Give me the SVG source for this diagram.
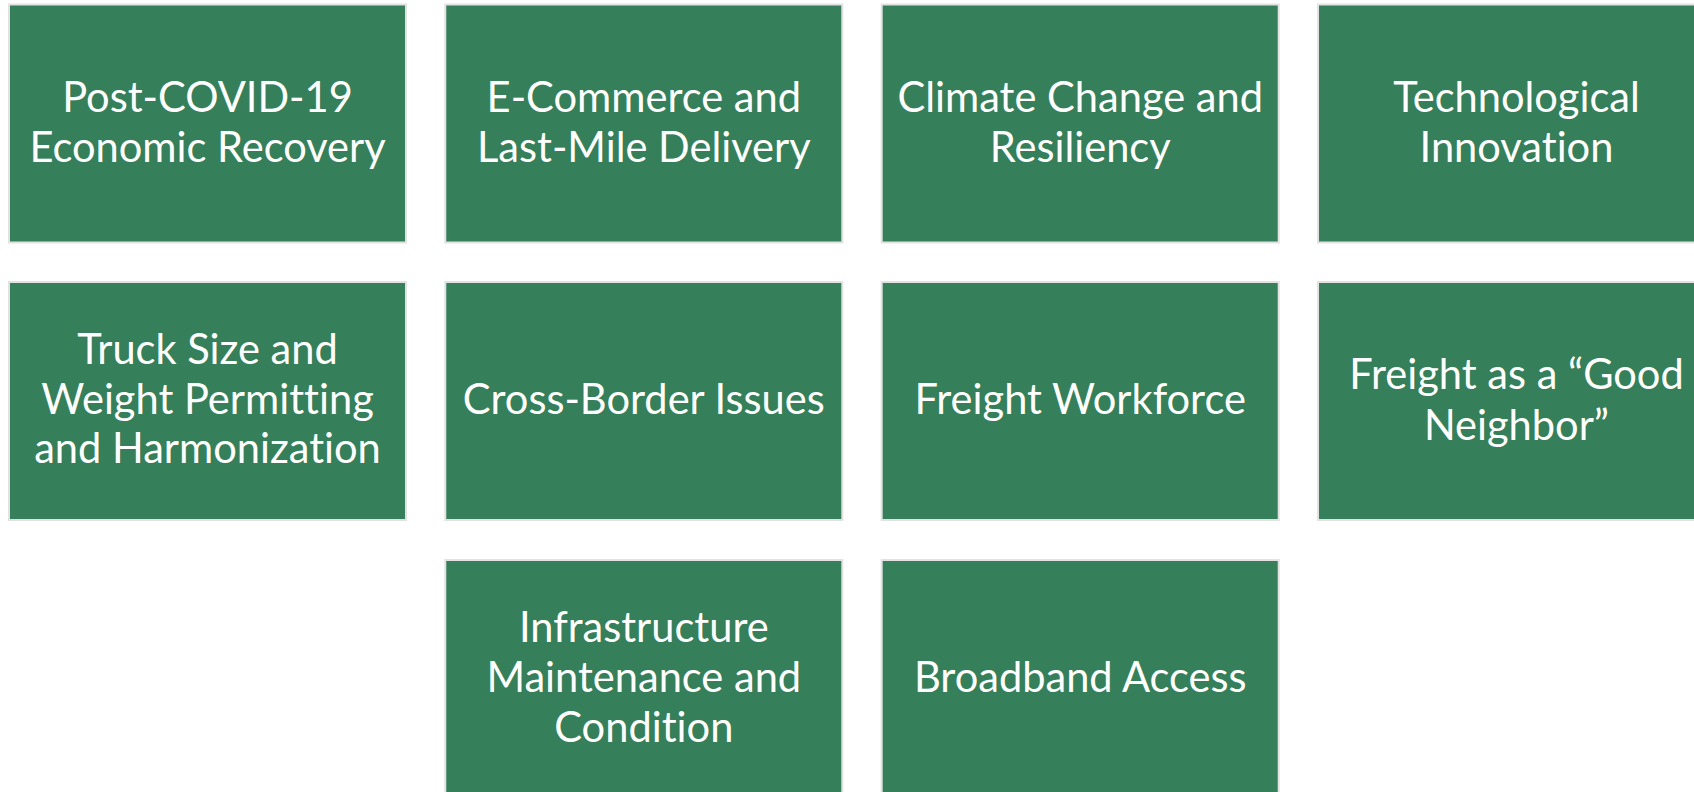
<svg xmlns="http://www.w3.org/2000/svg" width="1694" height="792" viewBox="0 0 1694 792">
<style>
.box{fill:#357f5a;stroke:#e2e2e2;stroke-width:2}
.t{font-family:Lato,"Open Sans","Liberation Sans",sans-serif;font-size:41.6px;fill:#ffffff;text-anchor:middle;font-variant-ligatures:none;font-feature-settings:"liga" 0,"clig" 0}
</style>
<rect width="1694" height="792" fill="#ffffff"/>
<g id="n1"><rect class="box" x="9" y="4.5" width="397" height="238"/>
<text class="t" x="207.5" y="111.5">Post-COVID-19</text><text class="t" x="207.5" y="162">Economic Recovery</text></g>
<g id="n2"><rect class="box" x="445.3" y="4.5" width="397" height="238"/>
<text class="t" x="643.8" y="111.5">E-Commerce and</text><text class="t" x="643.8" y="162">Last-Mile Delivery</text></g>
<g id="n3"><rect class="box" x="881.7" y="4.5" width="397" height="238"/>
<text class="t" x="1080.2" y="111.5">Climate Change and</text><text class="t" x="1080.2" y="162">Resiliency</text></g>
<g id="n4"><rect class="box" x="1318" y="4.5" width="397" height="238"/>
<text class="t" x="1516.5" y="111.5">Technological</text><text class="t" x="1516.5" y="162">Innovation</text></g>
<g id="n5"><rect class="box" x="9" y="282" width="397" height="238"/>
<text class="t" x="207.5" y="364.3">Truck Size and</text><text class="t" x="207.5" y="413.8">Weight Permitting</text><text class="t" x="207.5" y="463.3">and Harmonization</text></g>
<g id="n6"><rect class="box" x="445.3" y="282" width="397" height="238"/>
<text class="t" x="643.8" y="414">Cross-Border Issues</text></g>
<g id="n7"><rect class="box" x="881.7" y="282" width="397" height="238"/>
<text class="t" x="1080.2" y="414">Freight Workforce</text></g>
<g id="n8"><rect class="box" x="1318" y="282" width="397" height="238"/>
<text class="t" x="1516.5" y="389">Freight as a “Good</text><text class="t" x="1516.5" y="439.5">Neighbor”</text></g>
<g id="n9"><rect class="box" x="445.3" y="560" width="397" height="238"/>
<text class="t" x="643.8" y="641.7">Infrastructure</text><text class="t" x="643.8" y="691.7">Maintenance and</text><text class="t" x="643.8" y="741.7">Condition</text></g>
<g id="n10"><rect class="box" x="881.7" y="560" width="397" height="238"/>
<text class="t" x="1080.2" y="692">Broadband Access</text></g>
<g id="connectors"/>
</svg>
